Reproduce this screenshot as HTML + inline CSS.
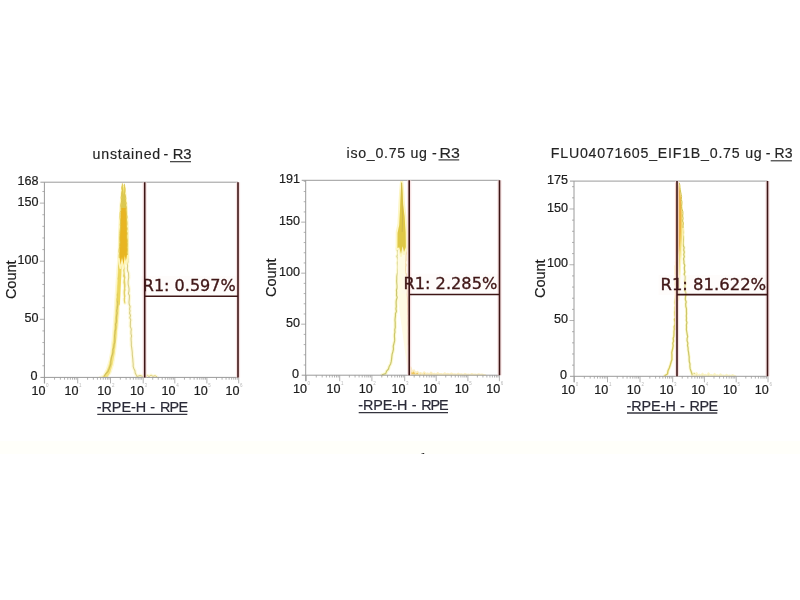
<!DOCTYPE html>
<html lang="en">
<head>
<meta charset="utf-8">
<title>Flow cytometry histograms</title>
<style>
html,body{margin:0;padding:0;background:#fff;}
body{width:800px;height:600px;overflow:hidden;}
svg{display:block;}
text{font-family:"Liberation Sans",Arial,sans-serif;}
.n{font-size:12.5px;fill:#1c1c1c;stroke:#1c1c1c;stroke-width:0.2;}
.e{font-size:4.5px;fill:#b8b8b8;}
.c{font-size:14.6px;fill:#1c1c1c;stroke:#1c1c1c;stroke-width:0.2;}
.t{font-size:14.2px;fill:#242424;stroke:#242424;stroke-width:0.15;}
.x{font-size:14.4px;fill:#2b2b38;stroke:#2b2b38;stroke-width:0.2;}
.g{font-family:"DejaVu Sans",Verdana,sans-serif;font-size:15.2px;fill:#401717;stroke:#401717;stroke-width:0.32;}
</style>
</head>
<body>
<svg width="800" height="600" viewBox="0 0 800 600">
<rect width="800" height="600" fill="#ffffff"/>
<rect x="0" y="441" width="800" height="13" fill="#fffffa"/>
<rect x="421.4" y="453" width="1.4" height="1" fill="#8a8a8a"/><rect x="422.6" y="453" width="1.6" height="1" fill="#2c2c2c"/>
<g>
<polygon points="99,377 103,375.6 106.5,369 109,361 111,350 112.6,335 114.2,313 115.6,290 117,268 118.6,250 122.2,250 121.6,270 120.4,292 118.8,318 117,338 115.6,352 113.6,364 110.8,373 108,377" fill="#fbf3b4" stroke="#fdf8d6" stroke-width="1.2" stroke-linejoin="round"/>
<polygon points="102,377 105,375 108.6,366 111.4,354 113.4,338 115,318 116.6,295 118,272 119.4,252 121.6,252 121,270 119.8,292 118.2,318 116.4,338 114.8,352 112.6,364 110,373 107.4,377" fill="#f3e27c"/>
<polyline points="104,376.3 105.81,373.71 108,371.5 109.1,368.76 109.91,366.43 110.8,364 110.75,361.6 111.17,359.16 111.65,356.57 112.48,354.58 113,352 112.89,349.51 113.74,347.58 113.98,344.94 114.72,342.42 114.89,340.22 114.8,338 114.61,335.54 114.99,333.67 115.05,331.29 115.75,328.93 115.85,326.51 115.52,324.34 116.4,322.21 116.4,320 116.34,317.75 116.63,315.29 117.14,313.21 116.68,310.84 117.13,308.71 117.49,306.08 117.91,303.69 117.43,301.74 117.28,299.29 117.8,297 117.43,294.76 118.36,292.37 118.61,289.9 118.55,287.72 118.55,285.31 118.97,283.24 118.7,280.76 118.38,278.44 119,276 119.31,274.02 119.65,271.38 119.32,269.34 119.07,266.98 119.38,264.54 119.41,262.65 119.64,260.11 120.2,258 120.21,255.54 120.01,252.64 120.6,250" fill="none" stroke="#d3c25c" stroke-width="1.3" stroke-linejoin="round"/>
<polygon points="117.2,300 118.2,276 119.4,252 122,252 121.4,272 120.4,292 119.8,306" fill="#ecd75c"/>
<polyline points="124.2,250 124.26,252.48 124.57,254.75 123.98,256.77 124.08,259.3 124.75,261.17 123.9,263.49 123.97,265.9 124.37,268.05 123.74,270.41 124.15,272.76 124.3,275 124.85,277.44 124.42,279.73 124.64,281.75 124.94,284.49 124.96,286.83 124.48,288.94 124.21,291.41 124.22,293.43 124.43,295.81 124.62,298.09 124.3,300.47 124.9,303 124.41,300.67 124.28,298.71 124.88,296.06 124.43,293.92 124.5,291.54 124.98,289.77 124.51,287.24 124.5,285 123.95,282.48 124.15,280.27 124.59,277.91 123.62,276.05 124.08,273.31 124.01,270.94 123.9,269.16 124.18,266.71 123.43,264.23 123.6,262" fill="none" stroke="#fbf3b4" stroke-width="3.2" stroke-linejoin="round" stroke-linecap="round" opacity="0.6"/><polyline points="124.2,250 124.26,252.48 124.57,254.75 123.98,256.77 124.08,259.3 124.75,261.17 123.9,263.49 123.97,265.9 124.37,268.05 123.74,270.41 124.15,272.76 124.3,275 124.85,277.44 124.42,279.73 124.64,281.75 124.94,284.49 124.96,286.83 124.48,288.94 124.21,291.41 124.22,293.43 124.43,295.81 124.62,298.09 124.3,300.47 124.9,303 124.41,300.67 124.28,298.71 124.88,296.06 124.43,293.92 124.5,291.54 124.98,289.77 124.51,287.24 124.5,285 123.95,282.48 124.15,280.27 124.59,277.91 123.62,276.05 124.08,273.31 124.01,270.94 123.9,269.16 124.18,266.71 123.43,264.23 123.6,262" fill="none" stroke="#e3d16a" stroke-width="1.1" stroke-linejoin="round"/>
<polyline points="127,248 126.73,250.44 127.22,252.72 127.09,254.7 127.71,257.41 127.85,259.6 127.91,261.85 127.35,264.01 127.58,266.03 127.32,268.45 127.66,270.96 128.52,273.11 128.6,275.7 128.71,277.64 128.3,280 128.09,282.07 128.17,284.28 128.74,286.89 129.07,288.88 128.97,291.28 128.44,293.42 129.45,295.71 129.38,297.77 129.2,300 128.97,302.36 129.26,304.57 130.08,306.54 129.57,309.05 130.05,310.82 129.51,313.01 130.49,315.57 129.77,317.78 130.81,319.89 130.4,322 130.37,324.36 130.26,326.4 131.32,329.08 130.96,331.57 130.99,333.87 131.56,335.84 131.06,338.22 131.18,340.71 131.34,342.96 131.33,345.56 131.71,347.64 132,350 132.29,352.56 132.31,354.9 132.6,357.02 132.83,359.07 132.93,361.49 133.2,364 133.15,366.41 133.84,368.49 134.95,370.78 135.2,373 137,376.4 140,375.4 143,376.6" fill="none" stroke="#fdf6c4" stroke-width="3.6" stroke-linejoin="round" stroke-linecap="round" opacity="0.6"/><polyline points="127,248 126.73,250.44 127.22,252.72 127.09,254.7 127.71,257.41 127.85,259.6 127.91,261.85 127.35,264.01 127.58,266.03 127.32,268.45 127.66,270.96 128.52,273.11 128.6,275.7 128.71,277.64 128.3,280 128.09,282.07 128.17,284.28 128.74,286.89 129.07,288.88 128.97,291.28 128.44,293.42 129.45,295.71 129.38,297.77 129.2,300 128.97,302.36 129.26,304.57 130.08,306.54 129.57,309.05 130.05,310.82 129.51,313.01 130.49,315.57 129.77,317.78 130.81,319.89 130.4,322 130.37,324.36 130.26,326.4 131.32,329.08 130.96,331.57 130.99,333.87 131.56,335.84 131.06,338.22 131.18,340.71 131.34,342.96 131.33,345.56 131.71,347.64 132,350 132.29,352.56 132.31,354.9 132.6,357.02 132.83,359.07 132.93,361.49 133.2,364 133.15,366.41 133.84,368.49 134.95,370.78 135.2,373 137,376.4 140,375.4 143,376.6" fill="none" stroke="#d9cf86" stroke-width="1.1" stroke-linejoin="round"/>
<polygon points="118.6,258 119,238 119.8,218 120.6,204 122.2,186 124.6,186 126.4,204 127.4,220 128,240 128.2,256 126.4,264 124.8,258 123.6,268 122,260 120.4,268" fill="#f8e676" stroke="#fdf4b8" stroke-width="2" stroke-linejoin="round"/>
<polygon points="119.5,256 119.9,238 120.6,220 121,207.5 126.3,207.5 126.8,222 127.2,240 127.3,253 125.8,261 124.8,255 123.6,265 122,257 120.6,265" fill="#e8b521"/>
<polygon points="121,208 121.5,196 122,186 122.4,183 122.9,188 123.4,195 124,187 124.4,183.6 124.9,192 125.6,200 126.3,208" fill="#dcc850"/>
<polyline points="119.3,258 119.15,255.79 119.45,253.71 119,251.37 119.2,248.99 119.82,246.89 119.63,244.81 120.06,242.41 119.78,240.23 119.7,238 119.8,235.86 119.82,233.52 119.94,231.49 120.27,229.21 120.62,226.62 120.29,224.74 120.69,222.05 120.4,220 120.08,217.47 120.13,214.86 120.23,212.59 121.11,210.22 120.9,207.5 120.66,205.12 121.36,202.3 121.74,200.26 121.15,197.75 121.6,195 121.65,192.67 122.46,190.54 121.71,188 122.26,185.63 122.4,183.4" fill="none" stroke="#dbc44c" stroke-width="0.9" stroke-linejoin="round"/>
<polyline points="124.4,183.8 124.27,186.14 125.04,188.42 125.06,191.09 124.67,193.47 125.4,196 125.74,198.31 125.32,200.87 126.32,203.16 125.77,205.07 126.4,207.5 125.98,210.07 126.31,212.13 126.56,214.98 127.08,217.03 126.43,219.81 126.9,222 127.03,224.36 126.55,226.26 127.26,228.71 126.63,231.24 127.3,233.42 126.74,235.7 126.77,237.95 127.3,240 127.28,242.41 127.43,245.23 127.14,247.3 127.46,249.86 127.04,252.31 127.5,255" fill="none" stroke="#dbc44c" stroke-width="0.9" stroke-linejoin="round"/>
<polyline points="146,376.5 147.5,375.4 149,376.6 151,375 153,376.4 155,375.6 157,376.8" fill="none" stroke="#fdf6c4" stroke-width="3" stroke-linejoin="round" stroke-linecap="round" opacity="0.6"/><polyline points="146,376.5 147.5,375.4 149,376.6 151,375 153,376.4 155,375.6 157,376.8" fill="none" stroke="#e3d480" stroke-width="1" stroke-linejoin="round"/>
<rect x="140.8" y="276" width="96.9" height="20" fill="#fdf4f3" opacity="0.3"/>
<path d="M40.4 182.2H238M40.4 377.4H238M44.4 182.2V383.4" stroke="#9a9a9a" stroke-width="1" fill="none"/>
<path d="M42.4 365.78H44.4M42.4 354.16H44.4M42.4 342.54H44.4M42.4 330.92H44.4M39.9 319.3H44.4M42.4 307.69H44.4M42.4 296.07H44.4M42.4 284.45H44.4M42.4 272.83H44.4M39.9 261.21H44.4M42.4 249.59H44.4M42.4 237.97H44.4M42.4 226.35H44.4M42.4 214.73H44.4M39.9 203.11H44.4M42.4 191.5H44.4" stroke="#9a9a9a" stroke-width="0.9" fill="none" opacity="0.85"/>
<path d="M44.6 377.4V383.4M54.56 377.4V379.7M60.39 377.4V379.7M64.53 377.4V379.7M67.74 377.4V379.7M70.36 377.4V379.7M72.57 377.4V379.7M74.49 377.4V379.7M76.19 377.4V379.7M77.7 377.4V383.4M87.57 377.4V379.7M93.35 377.4V379.7M97.45 377.4V379.7M100.63 377.4V379.7M103.22 377.4V379.7M105.42 377.4V379.7M107.32 377.4V379.7M109 377.4V379.7M110.5 377.4V383.4M120.34 377.4V379.7M126.1 377.4V379.7M130.19 377.4V379.7M133.36 377.4V379.7M135.95 377.4V379.7M138.13 377.4V379.7M140.03 377.4V379.7M141.7 377.4V379.7M143.2 377.4V383.4M152.71 377.4V379.7M158.28 377.4V379.7M162.23 377.4V379.7M165.29 377.4V379.7M167.79 377.4V379.7M169.91 377.4V379.7M171.74 377.4V379.7M173.35 377.4V379.7M174.8 377.4V383.4M184.46 377.4V379.7M190.12 377.4V379.7M194.13 377.4V379.7M197.24 377.4V379.7M199.78 377.4V379.7M201.93 377.4V379.7M203.79 377.4V379.7M205.43 377.4V379.7M206.9 377.4V383.4M216.47 377.4V379.7M222.07 377.4V379.7M226.05 377.4V379.7M229.13 377.4V379.7M231.65 377.4V379.7M233.77 377.4V379.7M235.62 377.4V379.7M237.24 377.4V379.7M238.7 377.4V383.4" stroke="#9a9a9a" stroke-width="0.9" fill="none" opacity="0.85"/>
<text x="38.6" y="184.9" text-anchor="end" textLength="21" lengthAdjust="spacingAndGlyphs" class="n">168</text>
<text x="38.6" y="322" text-anchor="end" textLength="14" lengthAdjust="spacingAndGlyphs" class="n">50</text>
<text x="38.6" y="263.91" text-anchor="end" textLength="21" lengthAdjust="spacingAndGlyphs" class="n">100</text>
<text x="38.6" y="205.81" text-anchor="end" textLength="21" lengthAdjust="spacingAndGlyphs" class="n">150</text>
<text x="37.6" y="380.1" text-anchor="end" textLength="7" lengthAdjust="spacingAndGlyphs" class="n">0</text>
<text x="45.4" y="395" text-anchor="end" textLength="14" lengthAdjust="spacingAndGlyphs" class="n">10</text>
<text x="46" y="386.9" class="e">0</text>
<text x="78.5" y="395" text-anchor="end" textLength="14" lengthAdjust="spacingAndGlyphs" class="n">10</text>
<text x="79.1" y="386.9" class="e">1</text>
<text x="111.3" y="395" text-anchor="end" textLength="14" lengthAdjust="spacingAndGlyphs" class="n">10</text>
<text x="111.9" y="386.9" class="e">2</text>
<text x="144" y="395" text-anchor="end" textLength="14" lengthAdjust="spacingAndGlyphs" class="n">10</text>
<text x="144.6" y="386.9" class="e">3</text>
<text x="175.6" y="395" text-anchor="end" textLength="14" lengthAdjust="spacingAndGlyphs" class="n">10</text>
<text x="176.2" y="386.9" class="e">4</text>
<text x="207.7" y="395" text-anchor="end" textLength="14" lengthAdjust="spacingAndGlyphs" class="n">10</text>
<text x="208.3" y="386.9" class="e">5</text>
<text x="239.5" y="395" text-anchor="end" textLength="14" lengthAdjust="spacingAndGlyphs" class="n">10</text>
<text x="240.1" y="386.9" class="e">6</text>
<text transform="translate(16 279.8) rotate(-90)" text-anchor="middle" textLength="38.6" lengthAdjust="spacing" class="c">Count</text>
<text x="92.6" y="159.3" textLength="67.6" lengthAdjust="spacing" class="t">unstained</text>
<text x="163.5" y="159.3" class="t">-</text>
<text x="172.7" y="159.3" textLength="18.9" lengthAdjust="spacingAndGlyphs" class="t">R3</text>
<path d="M170 161.7H191" stroke="#2a2a2a" stroke-width="1.1"/>
<text x="96.8" y="412.2" textLength="49.3" lengthAdjust="spacing" class="x">-RPE-H</text>
<text x="150.3" y="412.2" class="x">-</text>
<text x="159.9" y="412.2" textLength="28.1" lengthAdjust="spacing" class="x">RPE</text>
<path d="M97.3 414.4H187.3" stroke="#34343e" stroke-width="1.3"/>
<path d="M144.7 182.2V377.4M238 182.2V377.4" stroke="#f3d6d6" stroke-width="4.2" fill="none" opacity="0.7"/>
<path d="M144.7 182.2V377.4M238 182.2V377.4M144.7 296.2H238" stroke="#3e1616" stroke-width="1.6" fill="none"/>
<text x="142.8" y="291" textLength="92.9" lengthAdjust="spacingAndGlyphs" class="g">R1: 0.597%</text>
</g>
<g>
<polyline points="382,374.8 385.7,373.6 386.61,371.14 388.5,369 389.19,366.46 390.59,364.02 391.2,361.7 391.6,359.1 391.83,356.58 392.13,354.16 392.8,352 393.46,349.16 393.26,346.25 394,343.4 394.63,340.88 394.65,338.76 394.44,336.68 394.48,334.2 394.96,332.17 394.73,329.78 395.28,327.37 395.2,325 395.23,322.63 394.98,320.22 395.14,318.27 395.48,315.66 395.43,313.75 396.43,311.37 395.92,308.85 396.3,306.7 396.17,304.34 396.12,302 396.34,299.94 397.22,297.38 396.52,295.27 396.69,292.6 396.45,290.27 397.1,288 397.13,285.75 396.9,283.5 396.74,281.12 396.9,278.94 396.91,276.49 397.26,274.35 397.63,272.27 397.6,270 397.87,267.79 397.82,265.61 397.45,263 398.09,260.61 397.8,258.58 397.04,256.38 397.96,253.97 397.78,251.77 397.11,249.31 397.5,247" fill="none" stroke="#fdf7c6" stroke-width="3.4" stroke-linejoin="round" stroke-linecap="round" opacity="0.8"/><polyline points="382,374.8 385.7,373.6 386.61,371.14 388.5,369 389.19,366.46 390.59,364.02 391.2,361.7 391.6,359.1 391.83,356.58 392.13,354.16 392.8,352 393.46,349.16 393.26,346.25 394,343.4 394.63,340.88 394.65,338.76 394.44,336.68 394.48,334.2 394.96,332.17 394.73,329.78 395.28,327.37 395.2,325 395.23,322.63 394.98,320.22 395.14,318.27 395.48,315.66 395.43,313.75 396.43,311.37 395.92,308.85 396.3,306.7 396.17,304.34 396.12,302 396.34,299.94 397.22,297.38 396.52,295.27 396.69,292.6 396.45,290.27 397.1,288 397.13,285.75 396.9,283.5 396.74,281.12 396.9,278.94 396.91,276.49 397.26,274.35 397.63,272.27 397.6,270 397.87,267.79 397.82,265.61 397.45,263 398.09,260.61 397.8,258.58 397.04,256.38 397.96,253.97 397.78,251.77 397.11,249.31 397.5,247" fill="none" stroke="#cbc76c" stroke-width="1.2" stroke-linejoin="round"/>
<polyline points="400.3,247 400.29,249.68 400.6,252.18 400.34,254.72 400.43,257.11 399.92,259.24 400.2,262 399.86,264.26 399.9,266.85 400.46,269.07 400.61,271.43 400.52,273.39 400.6,276 400.93,273.8 400.6,271.35 400.78,268.76 400.86,266.53 400.13,264.2 400.6,262 401.17,259.44 401.5,257.46 401.55,254.74 401.86,252.5 402.2,250 402.57,252.34 402.5,254.31 402.03,256.68 402.76,258.98 402.64,261.1 402.15,263.51 402.9,266.01 402.98,268.07 402.87,270.44 402.89,272.52 403,275 403.56,277.11 403.78,279.79 402.85,281.8 403.86,284.35 403.58,286.24 403.44,288.88 403.57,290.95 403.62,293.2 404.64,295.25 404.62,297.73 404.4,300 404.95,302.38 404.36,304.76 404.77,306.56 404.36,309.09 404.98,311.25 404.77,313.55 405.09,316.1 404.87,318.32 405.92,320.25 406.14,322.84 405.8,325 406.35,327.16 405.88,329.49 406.68,331.87 406.08,334.05 406.1,336.12 406.02,338.82 406.33,341.15 406.4,343.05 406.79,345.28 406.75,347.98 407,350" fill="none" stroke="#fdf7cc" stroke-width="2.6" stroke-linejoin="round" stroke-linecap="round" opacity="0.6"/><polyline points="400.3,247 400.29,249.68 400.6,252.18 400.34,254.72 400.43,257.11 399.92,259.24 400.2,262 399.86,264.26 399.9,266.85 400.46,269.07 400.61,271.43 400.52,273.39 400.6,276 400.93,273.8 400.6,271.35 400.78,268.76 400.86,266.53 400.13,264.2 400.6,262 401.17,259.44 401.5,257.46 401.55,254.74 401.86,252.5 402.2,250 402.57,252.34 402.5,254.31 402.03,256.68 402.76,258.98 402.64,261.1 402.15,263.51 402.9,266.01 402.98,268.07 402.87,270.44 402.89,272.52 403,275 403.56,277.11 403.78,279.79 402.85,281.8 403.86,284.35 403.58,286.24 403.44,288.88 403.57,290.95 403.62,293.2 404.64,295.25 404.62,297.73 404.4,300 404.95,302.38 404.36,304.76 404.77,306.56 404.36,309.09 404.98,311.25 404.77,313.55 405.09,316.1 404.87,318.32 405.92,320.25 406.14,322.84 405.8,325 406.35,327.16 405.88,329.49 406.68,331.87 406.08,334.05 406.1,336.12 406.02,338.82 406.33,341.15 406.4,343.05 406.79,345.28 406.75,347.98 407,350" fill="none" stroke="#ece29a" stroke-width="1" stroke-linejoin="round"/>
<polyline points="405.6,246 405.99,248.57 405.68,251.03 405.99,253.23 405.72,255.35 405.71,257.97 405.7,260.48 405.15,262.55 405.83,265 405.3,267.51 405.3,270 405.25,272.42 406.17,274.44 405.99,276.75 406.05,279.08 405.79,281.24 406.01,283.94 406.5,286 406.68,288.18 407.31,290.94 406.99,292.8 406.89,295.11 407.24,297.44 407.6,300 407.32,302.12 407.7,304.71 407.9,306.7 407.55,309.01 407.51,311.16 407.18,313.38 408.18,315.54 407.68,318.07 408.09,320.09 407.45,322.36 407.6,324.72 408.22,327.19 408.14,328.99 407.23,331.62 408.19,333.74 407.86,335.73 407.65,338.48 408.14,340.7 408.31,342.61 407.8,345" fill="none" stroke="#fdf0c8" stroke-width="3.4" stroke-linejoin="round" stroke-linecap="round" opacity="0.6"/><polyline points="405.6,246 405.99,248.57 405.68,251.03 405.99,253.23 405.72,255.35 405.71,257.97 405.7,260.48 405.15,262.55 405.83,265 405.3,267.51 405.3,270 405.25,272.42 406.17,274.44 405.99,276.75 406.05,279.08 405.79,281.24 406.01,283.94 406.5,286 406.68,288.18 407.31,290.94 406.99,292.8 406.89,295.11 407.24,297.44 407.6,300 407.32,302.12 407.7,304.71 407.9,306.7 407.55,309.01 407.51,311.16 407.18,313.38 408.18,315.54 407.68,318.07 408.09,320.09 407.45,322.36 407.6,324.72 408.22,327.19 408.14,328.99 407.23,331.62 408.19,333.74 407.86,335.73 407.65,338.48 408.14,340.7 408.31,342.61 407.8,345" fill="none" stroke="#ecc586" stroke-width="1.2" stroke-linejoin="round"/>
<polygon points="397.6,247 405.8,247 405.4,270 406.6,290 407.6,330 407.8,372 398,300 397.5,270" fill="#fffbe4"/>
<polygon points="396.6,249 396.7,232 398.4,224 399.4,204 400.2,190 401,181.5 402.3,181.5 403.2,191 404,204 405.4,216 406.4,232 406.7,248 404,254 402.6,248 401,256 399.2,249" fill="#f8ea8c" stroke="#fdf6c4" stroke-width="2" stroke-linejoin="round"/>
<polygon points="397.5,248 397.6,233 399.3,225 400.2,205 400.8,191 401.4,182 402,182.4 402.6,192 403.2,205 404.6,217 405.6,233 405.8,247 404,252 402.6,246 401,254 399.2,247" fill="#dfc846"/>
<polyline points="401.6,183 401.9,200 402.6,216 402.2,232" fill="none" stroke="#cdb64a" stroke-width="0.9" stroke-linejoin="round"/>
<polygon points="410.4,375 410.6,367 412.3,371.8 414,370 415.7,373 417.4,371.5 419.1,373.6 420.8,372.8 422.5,374.12 424.2,372 425.9,373.8 427.6,373.2 429.3,374.28 431,372.4 432.7,373.96 434.4,373.5 436.1,374.4 437.8,372.8 439.5,374.12 441.2,373.8 442.9,374.52 444.6,373 446.3,374.2 448,373.6 449.7,374.44 451.4,373.2 453.1,374.28 454.8,374 456.5,374.6 458.2,373.4 459.9,374.36 461.6,374.1 463.3,374.64 465,373.6 466.7,374.44 468.4,374.2 470.1,374.68 471.8,373.8 473.5,374.52 475.2,374.2 476.9,374.68 478.6,374 480.3,374.6 482,374.4 483.7,374.76 485.4,375" fill="#efc65c" stroke="#fbeec0" stroke-width="1.6" stroke-linejoin="round"/>
<rect x="401.5" y="273.6" width="97.8" height="20" fill="#fdf4f3" opacity="0.3"/>
<path d="M301.7 180.3H499.5M301.7 375.2H499.5M305.7 180.3V381.2" stroke="#9a9a9a" stroke-width="1" fill="none"/>
<path d="M303.7 365H305.7M303.7 354.79H305.7M303.7 344.59H305.7M303.7 334.38H305.7M301.2 324.18H305.7M303.7 313.97H305.7M303.7 303.77H305.7M303.7 293.57H305.7M303.7 283.36H305.7M301.2 273.16H305.7M303.7 262.95H305.7M303.7 252.75H305.7M303.7 242.55H305.7M303.7 232.34H305.7M301.2 222.14H305.7M303.7 211.93H305.7M303.7 201.73H305.7M303.7 191.52H305.7M303.7 181.32H305.7" stroke="#9a9a9a" stroke-width="0.9" fill="none" opacity="0.85"/>
<path d="M306.2 375.2V381.2M316.28 375.2V377.5M322.18 375.2V377.5M326.37 375.2V377.5M329.62 375.2V377.5M332.27 375.2V377.5M334.51 375.2V377.5M336.45 375.2V377.5M338.17 375.2V377.5M339.7 375.2V381.2M349.39 375.2V377.5M355.06 375.2V377.5M359.09 375.2V377.5M362.21 375.2V377.5M364.76 375.2V377.5M366.91 375.2V377.5M368.78 375.2V377.5M370.43 375.2V377.5M371.9 375.2V381.2M381.77 375.2V377.5M387.55 375.2V377.5M391.65 375.2V377.5M394.83 375.2V377.5M397.42 375.2V377.5M399.62 375.2V377.5M401.52 375.2V377.5M403.2 375.2V377.5M404.7 375.2V381.2M414.18 375.2V377.5M419.73 375.2V377.5M423.66 375.2V377.5M426.72 375.2V377.5M429.21 375.2V377.5M431.32 375.2V377.5M433.15 375.2V377.5M434.76 375.2V377.5M436.2 375.2V381.2M445.74 375.2V377.5M451.32 375.2V377.5M455.29 375.2V377.5M458.36 375.2V377.5M460.87 375.2V377.5M462.99 375.2V377.5M464.83 375.2V377.5M466.45 375.2V377.5M467.9 375.2V381.2M477.38 375.2V377.5M482.93 375.2V377.5M486.86 375.2V377.5M489.92 375.2V377.5M492.41 375.2V377.5M494.52 375.2V377.5M496.35 375.2V377.5M497.96 375.2V377.5M499.4 375.2V381.2" stroke="#9a9a9a" stroke-width="0.9" fill="none" opacity="0.85"/>
<text x="300" y="183" text-anchor="end" textLength="21" lengthAdjust="spacingAndGlyphs" class="n">191</text>
<text x="300" y="326.88" text-anchor="end" textLength="14" lengthAdjust="spacingAndGlyphs" class="n">50</text>
<text x="300" y="275.86" text-anchor="end" textLength="21" lengthAdjust="spacingAndGlyphs" class="n">100</text>
<text x="300" y="224.84" text-anchor="end" textLength="21" lengthAdjust="spacingAndGlyphs" class="n">150</text>
<text x="299" y="377.9" text-anchor="end" textLength="7" lengthAdjust="spacingAndGlyphs" class="n">0</text>
<text x="307" y="392.8" text-anchor="end" textLength="14" lengthAdjust="spacingAndGlyphs" class="n">10</text>
<text x="307.6" y="384.7" class="e">0</text>
<text x="340.5" y="392.8" text-anchor="end" textLength="14" lengthAdjust="spacingAndGlyphs" class="n">10</text>
<text x="341.1" y="384.7" class="e">1</text>
<text x="372.7" y="392.8" text-anchor="end" textLength="14" lengthAdjust="spacingAndGlyphs" class="n">10</text>
<text x="373.3" y="384.7" class="e">2</text>
<text x="405.5" y="392.8" text-anchor="end" textLength="14" lengthAdjust="spacingAndGlyphs" class="n">10</text>
<text x="406.1" y="384.7" class="e">3</text>
<text x="437" y="392.8" text-anchor="end" textLength="14" lengthAdjust="spacingAndGlyphs" class="n">10</text>
<text x="437.6" y="384.7" class="e">4</text>
<text x="468.7" y="392.8" text-anchor="end" textLength="14" lengthAdjust="spacingAndGlyphs" class="n">10</text>
<text x="469.3" y="384.7" class="e">5</text>
<text x="500.2" y="392.8" text-anchor="end" textLength="14" lengthAdjust="spacingAndGlyphs" class="n">10</text>
<text x="500.8" y="384.7" class="e">6</text>
<text transform="translate(276.1 277.75) rotate(-90)" text-anchor="middle" textLength="38.6" lengthAdjust="spacing" class="c">Count</text>
<text x="346.6" y="157.6" textLength="80.4" lengthAdjust="spacing" class="t">iso_0.75 ug</text>
<text x="431.9" y="157.6" class="t">-</text>
<text x="439.5" y="157.6" textLength="20.3" lengthAdjust="spacingAndGlyphs" class="t">R3</text>
<path d="M438.5 159.9H459.2" stroke="#2a2a2a" stroke-width="1.1"/>
<text x="358.2" y="410.4" textLength="49.3" lengthAdjust="spacing" class="x">-RPE-H</text>
<text x="411.7" y="410.4" class="x">-</text>
<text x="421.3" y="410.4" textLength="27.4" lengthAdjust="spacing" class="x">RPE</text>
<path d="M358.7 412.6H448" stroke="#34343e" stroke-width="1.3"/>
<path d="M409.2 180.3V375.2M499.5 180.3V375.2" stroke="#f3d6d6" stroke-width="4.2" fill="none" opacity="0.7"/>
<path d="M409.2 180.3V375.2M499.5 180.3V375.2M409.2 294.5H499.5" stroke="#3e1616" stroke-width="1.6" fill="none"/>
<text x="403.5" y="288.6" textLength="93.8" lengthAdjust="spacingAndGlyphs" class="g">R1: 2.285%</text>
</g>
<g>
<polyline points="664.5,375.8 667.5,374 667.97,370.81 669.3,368 670.27,364.95 671.2,361.7 671.95,359.54 671.9,357.28 671.95,354.88 671.76,352.72 672.24,350.51 672.8,348 673.16,345.56 672.79,343.2 673.55,341.11 673.17,338.43 673.83,336.38 674,334 674,331.47 674.36,328.98 674.16,326.85 675,324.58 675.05,322.11 674.46,319.61 675.38,317.49 675,315 674.87,312.31 675.17,310.24 675.17,307.58 675.53,305.52 675.13,302.6 675.34,300.38 675.6,298 675.84,295.58 676,293.63 675.72,291.09 676.27,288.9 676.14,286.6 675.52,284.64 675.64,282.5 675.9,279.83 675.63,277.7 676.16,275.75 675.62,273.19 675.73,271.26 675.69,268.5 675.64,266.44 676.6,264.46 676.2,262" fill="none" stroke="#fdf5c0" stroke-width="3" stroke-linejoin="round" stroke-linecap="round" opacity="0.8"/><polyline points="664.5,375.8 667.5,374 667.97,370.81 669.3,368 670.27,364.95 671.2,361.7 671.95,359.54 671.9,357.28 671.95,354.88 671.76,352.72 672.24,350.51 672.8,348 673.16,345.56 672.79,343.2 673.55,341.11 673.17,338.43 673.83,336.38 674,334 674,331.47 674.36,328.98 674.16,326.85 675,324.58 675.05,322.11 674.46,319.61 675.38,317.49 675,315 674.87,312.31 675.17,310.24 675.17,307.58 675.53,305.52 675.13,302.6 675.34,300.38 675.6,298 675.84,295.58 676,293.63 675.72,291.09 676.27,288.9 676.14,286.6 675.52,284.64 675.64,282.5 675.9,279.83 675.63,277.7 676.16,275.75 675.62,273.19 675.73,271.26 675.69,268.5 675.64,266.44 676.6,264.46 676.2,262" fill="none" stroke="#d4c85e" stroke-width="1.3" stroke-linejoin="round"/>
<polyline points="682.8,228 683.15,230.47 683.45,232.31 682.72,234.84 683.43,236.54 683.43,238.93 683.2,241.11 683.07,243.13 683.28,245.52 684.11,247.59 683.7,250 684.3,252.06 683.72,254.62 684.32,256.63 683.56,258.87 684,261.34 683.9,263.26 684.76,265.3 684.31,267.95 684.5,270 684.88,272 684.16,274.26 685.21,276.62 685.11,279.22 684.74,281.12 685.5,283.56 684.82,285.87 684.96,287.88 684.7,290.39 685.79,292.57 685.9,294.49 685.5,297 685.31,299.36 686.2,302 685.68,303.99 685.82,306.5 686.47,308.7 686.43,311.38 686.56,313.78 686.3,316 686.52,318.16 686.3,320.42 686.91,322.52 686.37,325.14 686.52,327.01 686.39,329.53 686.81,332.01 687.1,334 687.66,336.55 687.13,338.34 687.08,340.86 687.9,343.11 687.52,345.38 688.09,347.81 688.1,350 688.61,352.53 688.76,354.47 689.19,356.91 689.13,359.29 689.3,361.7 689.99,363.86 689.87,366.21 690.19,368.89 691,371 692.3,375 694,373.5 696,375.6" fill="none" stroke="#fdf7c6" stroke-width="3" stroke-linejoin="round" stroke-linecap="round" opacity="0.8"/><polyline points="682.8,228 683.15,230.47 683.45,232.31 682.72,234.84 683.43,236.54 683.43,238.93 683.2,241.11 683.07,243.13 683.28,245.52 684.11,247.59 683.7,250 684.3,252.06 683.72,254.62 684.32,256.63 683.56,258.87 684,261.34 683.9,263.26 684.76,265.3 684.31,267.95 684.5,270 684.88,272 684.16,274.26 685.21,276.62 685.11,279.22 684.74,281.12 685.5,283.56 684.82,285.87 684.96,287.88 684.7,290.39 685.79,292.57 685.9,294.49 685.5,297 685.31,299.36 686.2,302 685.68,303.99 685.82,306.5 686.47,308.7 686.43,311.38 686.56,313.78 686.3,316 686.52,318.16 686.3,320.42 686.91,322.52 686.37,325.14 686.52,327.01 686.39,329.53 686.81,332.01 687.1,334 687.66,336.55 687.13,338.34 687.08,340.86 687.9,343.11 687.52,345.38 688.09,347.81 688.1,350 688.61,352.53 688.76,354.47 689.19,356.91 689.13,359.29 689.3,361.7 689.99,363.86 689.87,366.21 690.19,368.89 691,371 692.3,375 694,373.5 696,375.6" fill="none" stroke="#cdc768" stroke-width="1.2" stroke-linejoin="round"/>
<polygon points="677.8,262 677.8,182.5 679.2,183 680.4,190 681.6,200 682.5,212 683.2,226 682.8,236 681.8,248 680.6,262 679.6,280 678.6,300" fill="#f2dc74" stroke="#fdf4bc" stroke-width="1.4" stroke-linejoin="round"/>
<polygon points="678,256 678,184 679.6,188 680.8,198 681.4,212 681.2,226 680.4,240 679.4,250" fill="#eeb342"/>
<polyline points="679.4,183 679.79,185.15 679.89,187.77 680.31,189.6 680.6,192 681.18,194.48 681.62,196.58 681.29,199.38 681.93,201.83 681.8,204 681.45,206.29 681.7,208.63 682.8,211.25 682.91,213.53 682.6,216 683.08,218.37 682.5,220.95 683.33,222.98 683.03,225.67 683,228" fill="none" stroke="#d2c456" stroke-width="1" stroke-linejoin="round"/>
<polyline points="675.7,183 675.7,330" fill="none" stroke="#f6c9a0" stroke-width="1.2" stroke-linejoin="round"/>
<polygon points="693,376 693.5,374 695,375.4 696.5,372.8 698,375.04 699.5,374.4 701,375.52 702.5,373.4 704,375.22 705.5,374.6 707,375.58 708.5,373 710,375.1 711.5,374.8 713,375.64 714.5,373.6 716,375.28 717.5,375 719,375.7 720.5,374 722,375.4 723.5,375.2 725,375.76 726.5,374.5 728,375.55 729.5,375.2 731,375.76 732.5,374.8 734,375.64 735.5,376" fill="#e4d670" stroke="#fbf4c4" stroke-width="1.6" stroke-linejoin="round"/>
<rect x="658.5" y="275" width="109.7" height="20" fill="#fdf4f3" opacity="0.3"/>
<path d="M570 181.1H767.5M570 376.3H767.5M574 181.1V382.3" stroke="#9a9a9a" stroke-width="1" fill="none"/>
<path d="M572 365.15H574M572 353.99H574M572 342.84H574M572 331.68H574M569.5 320.53H574M572 309.37H574M572 298.22H574M572 287.07H574M572 275.91H574M569.5 264.76H574M572 253.6H574M572 242.45H574M572 231.29H574M572 220.14H574M569.5 208.99H574M572 197.83H574M572 186.68H574" stroke="#9a9a9a" stroke-width="0.9" fill="none" opacity="0.85"/>
<path d="M574.4 376.3V382.3M584.36 376.3V378.6M590.19 376.3V378.6M594.33 376.3V378.6M597.54 376.3V378.6M600.16 376.3V378.6M602.37 376.3V378.6M604.29 376.3V378.6M605.99 376.3V378.6M607.5 376.3V382.3M617.28 376.3V378.6M623.01 376.3V378.6M627.07 376.3V378.6M630.22 376.3V378.6M632.79 376.3V378.6M634.97 376.3V378.6M636.85 376.3V378.6M638.51 376.3V378.6M640 376.3V382.3M649.84 376.3V378.6M655.6 376.3V378.6M659.69 376.3V378.6M662.86 376.3V378.6M665.45 376.3V378.6M667.63 376.3V378.6M669.53 376.3V378.6M671.2 376.3V378.6M672.7 376.3V382.3M682.24 376.3V378.6M687.82 376.3V378.6M691.79 376.3V378.6M694.86 376.3V378.6M697.37 376.3V378.6M699.49 376.3V378.6M701.33 376.3V378.6M702.95 376.3V378.6M704.4 376.3V382.3M713.97 376.3V378.6M719.57 376.3V378.6M723.55 376.3V378.6M726.63 376.3V378.6M729.15 376.3V378.6M731.27 376.3V378.6M733.12 376.3V378.6M734.74 376.3V378.6M736.2 376.3V382.3M745.77 376.3V378.6M751.37 376.3V378.6M755.35 376.3V378.6M758.43 376.3V378.6M760.95 376.3V378.6M763.07 376.3V378.6M764.92 376.3V378.6M766.54 376.3V378.6M768 376.3V382.3" stroke="#9a9a9a" stroke-width="0.9" fill="none" opacity="0.85"/>
<text x="568" y="183.8" text-anchor="end" textLength="21" lengthAdjust="spacingAndGlyphs" class="n">175</text>
<text x="568" y="323.23" text-anchor="end" textLength="14" lengthAdjust="spacingAndGlyphs" class="n">50</text>
<text x="568" y="267.46" text-anchor="end" textLength="21" lengthAdjust="spacingAndGlyphs" class="n">100</text>
<text x="568" y="211.69" text-anchor="end" textLength="21" lengthAdjust="spacingAndGlyphs" class="n">150</text>
<text x="567" y="379" text-anchor="end" textLength="7" lengthAdjust="spacingAndGlyphs" class="n">0</text>
<text x="575.2" y="393.9" text-anchor="end" textLength="14" lengthAdjust="spacingAndGlyphs" class="n">10</text>
<text x="575.8" y="385.8" class="e">0</text>
<text x="608.3" y="393.9" text-anchor="end" textLength="14" lengthAdjust="spacingAndGlyphs" class="n">10</text>
<text x="608.9" y="385.8" class="e">1</text>
<text x="640.8" y="393.9" text-anchor="end" textLength="14" lengthAdjust="spacingAndGlyphs" class="n">10</text>
<text x="641.4" y="385.8" class="e">2</text>
<text x="673.5" y="393.9" text-anchor="end" textLength="14" lengthAdjust="spacingAndGlyphs" class="n">10</text>
<text x="674.1" y="385.8" class="e">3</text>
<text x="705.2" y="393.9" text-anchor="end" textLength="14" lengthAdjust="spacingAndGlyphs" class="n">10</text>
<text x="705.8" y="385.8" class="e">4</text>
<text x="737" y="393.9" text-anchor="end" textLength="14" lengthAdjust="spacingAndGlyphs" class="n">10</text>
<text x="737.6" y="385.8" class="e">5</text>
<text x="768.8" y="393.9" text-anchor="end" textLength="14" lengthAdjust="spacingAndGlyphs" class="n">10</text>
<text x="769.4" y="385.8" class="e">6</text>
<text transform="translate(545.1 278.7) rotate(-90)" text-anchor="middle" textLength="38.6" lengthAdjust="spacing" class="c">Count</text>
<text x="550.8" y="158.3" textLength="210.9" lengthAdjust="spacing" class="t">FLU04071605_EIF1B_0.75 ug</text>
<text x="765.8" y="158.3" class="t">-</text>
<text x="774.6" y="158.3" textLength="17.9" lengthAdjust="spacingAndGlyphs" class="t">R3</text>
<path d="M770.7 160.8H791.9" stroke="#2a2a2a" stroke-width="1.1"/>
<text x="626.5" y="410.8" textLength="49.3" lengthAdjust="spacing" class="x">-RPE-H</text>
<text x="680" y="410.8" class="x">-</text>
<text x="689.6" y="410.8" textLength="28.4" lengthAdjust="spacing" class="x">RPE</text>
<path d="M627 413H717.3" stroke="#34343e" stroke-width="1.3"/>
<path d="M677 181.1V376.3M767.5 181.1V376.3" stroke="#f3d6d6" stroke-width="4.2" fill="none" opacity="0.7"/>
<path d="M677 181.1V376.3M767.5 181.1V376.3M677 294.6H767.5" stroke="#3e1616" stroke-width="1.6" fill="none"/>
<text x="660.5" y="290" textLength="105.7" lengthAdjust="spacingAndGlyphs" class="g">R1: 81.622%</text>
</g>
</svg>
</body>
</html>
